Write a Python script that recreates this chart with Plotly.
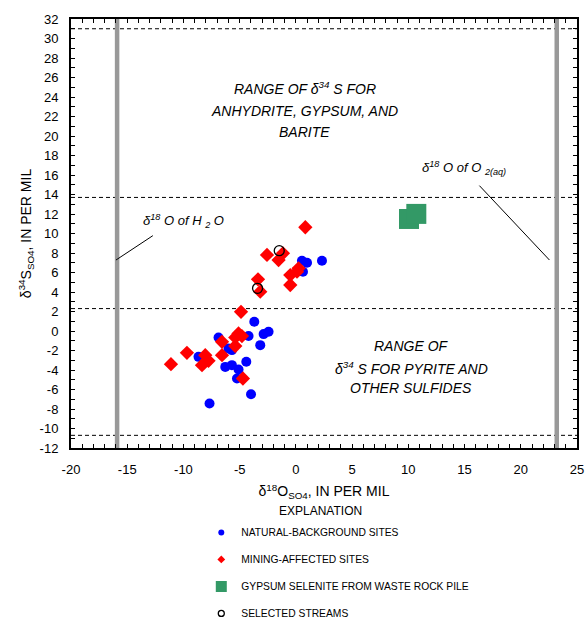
import plotly.graph_objects as go

# ---- data ----
natural_x = [0.54, 0.99, 2.32, 0.63, -3.70, -4.21, -2.87, -2.43, -3.17, -6.88,
             -5.99, -5.69, -8.66, -6.28, -5.69, -5.10, -4.41, -5.24, -3.99, -7.68]
natural_y = [7.21, 7.00, 7.21, 6.08, 0.94, -0.52, -0.32, -0.08, -1.45, -0.66,
             -1.79, -1.96, -2.65, -3.68, -3.50, -3.94, -3.16, -4.87, -6.48, -7.44]

mining_x = [0.84, -2.57, -1.54, -1.15, -0.50, 0.10, 0.24, -0.50, -3.37, -3.17,
            -4.88, -5.10, -5.39, -4.80, -6.57, -5.39, -6.57, -9.69, -8.06, -7.77,
            -8.35, -4.71, -11.11]
mining_y = [10.64, 7.80, 7.28, 7.97, 5.74, 6.08, 6.43, 4.72, 5.30, 4.03,
            1.97, -0.25, -0.66, -0.52, -1.11, -1.55, -2.48, -2.24, -2.48, -3.06,
            -3.50, -4.87, -3.40]

gypsum_x = [10.06, 10.71]
gypsum_y = [11.49, 12.01]

streams_x = [-1.48, -3.41]
streams_y = [8.24, 4.38]

# reference lines
water_o18 = -15.9          # delta18O of H2O (vertical grey line)
oxygen_o18 = 23.2          # delta18O of O2(aq) (vertical grey line)
evaporite_s34 = [31.0, 13.7]   # range of d34S for anhydrite, gypsum, barite
sulfide_s34 = [2.3, -10.7]     # range of d34S for pyrite and other sulfides

# axis ticks
x_range = [-20, 25]
y_range = [-12, 32]
x_tickvals = [-20, -15, -10, -5, 0, 5, 10, 15, 20, 25]
x_ticktext = ["-20", "-15", "-10", "-5", "0", "5", "10", "15", "20", "25"]
y_tickvals = [-12, -10, -8, -6, -4, -2, 0, 2, 4, 6, 8, 10, 12, 14, 16, 18, 20,
              22, 24, 26, 28, 30, 32]
y_ticktext = [str(v) for v in y_tickvals]

FONT = "Liberation Sans, Arial, sans-serif"

fig = go.Figure()

# data traces
fig.add_trace(go.Scatter(x=gypsum_x, y=gypsum_y, mode="markers", showlegend=False,
                         marker=dict(symbol="square", size=20, color="#339966")))
fig.add_trace(go.Scatter(x=natural_x, y=natural_y, mode="markers", showlegend=False,
                         marker=dict(symbol="circle", size=10, color="#0000FF")))
fig.add_trace(go.Scatter(x=mining_x, y=mining_y, mode="markers", showlegend=False,
                         marker=dict(symbol="diamond", size=11, color="#FF0000")))
fig.add_trace(go.Scatter(x=streams_x, y=streams_y, mode="markers", showlegend=False,
                         marker=dict(symbol="circle-open", size=10, color="black",
                                     line=dict(width=1.3, color="black"))))

# legend entries
legend_items = [
    ("NATURAL-BACKGROUND SITES", dict(symbol="circle", size=6, color="#0000FF")),
    ("MINING-AFFECTED SITES", dict(symbol="diamond", size=6, color="#FF0000")),
    ("GYPSUM SELENITE FROM WASTE ROCK PILE", dict(symbol="square", size=11, color="#339966")),
    ("SELECTED STREAMS", dict(symbol="circle-open", size=6, color="black",
                              line=dict(width=1.3, color="black"))),
]
for i, (name, mk) in enumerate(legend_items):
    fig.add_trace(go.Scatter(x=[None], y=[None], mode="markers", name=name,
                             marker=mk, legendgroup=f"g{i}", showlegend=True))

shapes = []
# horizontal dashed range lines
for yv in evaporite_s34 + sulfide_s34:
    shapes.append(dict(type="line", xref="x", yref="y", x0=x_range[0], x1=x_range[1],
                       y0=yv, y1=yv, line=dict(color="black", width=1, dash="4px,3px"),
                       layer="below"))
# vertical grey lines
for xv in [water_o18, oxygen_o18]:
    shapes.append(dict(type="line", xref="x", yref="y", x0=xv, x1=xv,
                       y0=y_range[0], y1=y_range[1],
                       line=dict(color="#999999", width=4.5), layer="below"))
# leader lines
shapes.append(dict(type="line", xref="x", yref="y", x0=-16.0, y0=7.28, x1=-12.72, y1=9.78,
                   line=dict(color="black", width=1)))
shapes.append(dict(type="line", xref="x", yref="y", x0=16.32, y0=14.91, x1=22.55, y1=7.28,
                   line=dict(color="black", width=1)))

ann = []
def txt(x, y, t, size=14, italic=True, xref="x", yref="y"):
    ann.append(dict(x=x, y=y, xref=xref, yref=yref, text=t, showarrow=False,
                    xanchor="center", yanchor="middle",
                    font=dict(family=FONT, size=size, color="black",
                              style="italic" if italic else "normal")))

txt(0.79, 24.95, "RANGE OF δ<sup>34</sup> S FOR")
txt(0.79, 22.6, "ANHYDRITE, GYPSUM, AND")
txt(0.79, 20.45, "BARITE")
txt(10.24, -1.55, "RANGE OF")
txt(10.24, -3.8, "δ<sup>34</sup> S FOR PYRITE AND")
txt(10.24, -5.85, "OTHER SULFIDES")
txt(-10.0, 11.3, "δ<sup>18</sup> O of H <sub>2</sub> O", size=13)
txt(14.98, 16.7, "δ<sup>18</sup> O of O <sub>2(aq)</sub>", size=13)
txt(0.4927, -0.147, "EXPLANATION", size=12, italic=False, xref="paper", yref="paper")

axis_common = dict(showline=True, linecolor="black", linewidth=2, mirror="ticks",
                   ticks="inside", ticklen=4, tickwidth=1, tickcolor="black",
                   showgrid=False, zeroline=False, tickmode="array",
                   tickfont=dict(family=FONT, size=13, color="black"))

fig.update_layout(
    width=585, height=619,
    margin=dict(l=71, r=8, t=19, b=171, autoexpand=False),
    paper_bgcolor="white", plot_bgcolor="white",
    font=dict(family=FONT, color="black"),
    xaxis=dict(range=x_range, tickvals=x_tickvals, ticktext=x_ticktext,
               minor=dict(dtick=1, tick0=0, ticks="inside", ticklen=4, tickcolor="black"),
               title=dict(text="δ<sup>18</sup>O<sub>SO4</sub>, IN PER MIL",
                          font=dict(family=FONT, size=14), standoff=11),
               ticklabelstandoff=8, **axis_common),
    yaxis=dict(range=y_range, tickvals=y_tickvals, ticktext=y_ticktext,
               minor=dict(dtick=1, tick0=0, ticks="inside", ticklen=4, tickcolor="black"),
               title=dict(text="δ<sup>34</sup>S<sub>SO4</sub>, IN PER MIL",
                          font=dict(family=FONT, size=14), standoff=5),
               ticklabelstandoff=8, **axis_common),
    shapes=shapes, annotations=ann,
    legend=dict(x=0.2575, y=-0.163, xanchor="left", yanchor="top",
                traceorder="grouped", tracegroupgap=8,
                font=dict(family=FONT, size=10.3, color="black"),
                bgcolor="rgba(0,0,0,0)", itemclick=False, itemdoubleclick=False),
)

fig.write_html("out.html", config={"displayModeBar": False},
               post_script="document.body.style.margin='0';document.body.style.overflow='hidden';")
